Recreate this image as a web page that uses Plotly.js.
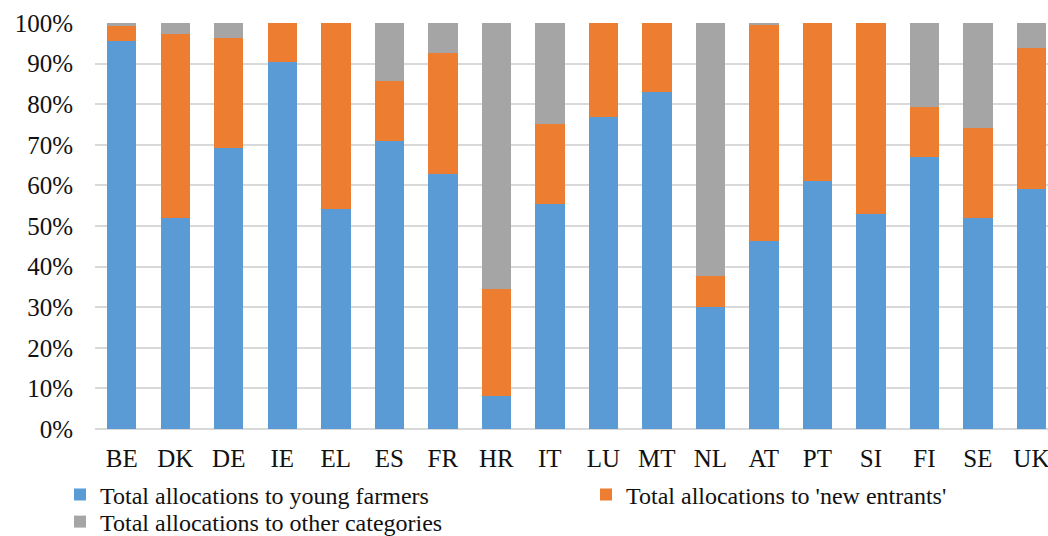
<!DOCTYPE html>
<html>
<head>
<meta charset="utf-8">
<script src="https://cdn.plot.ly/plotly-3.0.1.min.js"></script>
<style>
  html, body { margin: 0; padding: 0; background: #ffffff; overflow: hidden; }
  #chart { width: 1048px; height: 536px; }
</style>
</head>
<body>
<div id="chart"></div>
<script>
// Member states
const countries = ['BE', 'DK', 'DE', 'IE', 'EL', 'ES', 'FR', 'HR', 'IT',
                   'LU', 'MT', 'NL', 'AT', 'PT', 'SI', 'FI', 'SE', 'UK'];

// Share of allocations (%) per category
const youngFarmers = [95.5, 52.0, 69.3, 90.3, 54.2, 71.0, 62.8, 8.2, 55.3,
                      76.8, 83.0, 30.0, 46.2, 61.1, 53.0, 67.0, 52.0, 59.1];
const newEntrants  = [3.8, 45.2, 27.1, 9.7, 45.8, 14.7, 29.8, 26.4, 19.9,
                      23.2, 17.0, 7.6, 53.2, 38.9, 47.0, 12.4, 22.2, 34.7];
const otherCats    = [0.7, 2.8, 3.6, 0.0, 0.0, 14.3, 7.4, 65.4, 24.8,
                      0.0, 0.0, 62.4, 0.6, 0.0, 0.0, 20.6, 25.8, 6.2];

const seriesNames = [
  'Total allocations to young farmers',
  "Total allocations to 'new entrants'",
  'Total allocations to other categories'
];
const seriesColors = ['#5B9BD5', '#ED7D31', '#A5A5A5'];
const seriesValues = [youngFarmers, newEntrants, otherCats];
// each series gets its own legend box so the entries can sit in two rows
const legendIds = ['legend', 'legend2', 'legend3'];

const traces = seriesValues.map((vals, i) => ({
  type: 'bar',
  x: countries,
  y: vals,
  name: seriesNames[i],
  legend: legendIds[i],
  marker: { color: seriesColors[i], line: { width: 0 } },
  width: 0.55,
  hoverinfo: 'skip'
}));

const serif = 'Liberation Serif, Times New Roman, serif';
const ink = '#111111';

function legendBox(xPx, yPx) {
  return {
    xref: 'container', yref: 'container',
    x: xPx / 1048, xanchor: 'left',
    y: 1 - yPx / 536, yanchor: 'middle',
    orientation: 'h',
    bgcolor: 'rgba(0,0,0,0)',
    borderwidth: 0,
    itemwidth: 30,
    font: { family: serif, size: 24, color: ink }
  };
}

const layout = {
  width: 1048,
  height: 536,
  barmode: 'stack',
  paper_bgcolor: '#ffffff',
  plot_bgcolor: '#ffffff',
  margin: { l: 95, r: 0, t: 23, b: 107, autoexpand: false },
  font: { family: serif, color: ink },
  showlegend: true,
  xaxis: {
    type: 'category',
    range: [-0.5, 17.31],
    showgrid: false,
    showline: false,
    zeroline: false,
    ticks: '',
    ticklabelstandoff: 12,
    tickfont: { family: serif, size: 25, color: ink }
  },
  yaxis: {
    range: [0, 100],
    dtick: 10,
    ticksuffix: '%',
    showgrid: true,
    gridcolor: '#D9D9D9',
    gridwidth: 2,
    zeroline: true,
    zerolinecolor: '#D9D9D9',
    zerolinewidth: 2,
    showline: false,
    ticks: '',
    ticklabelstandoff: 21,
    tickfont: { family: serif, size: 25, color: ink }
  },
  legend: legendBox(60, 495),
  legend2: legendBox(586, 495),
  legend3: legendBox(60, 522)
};

Plotly.newPlot('chart', traces, layout, { staticPlot: true, displayModeBar: false });
</script>
</body>
</html>
